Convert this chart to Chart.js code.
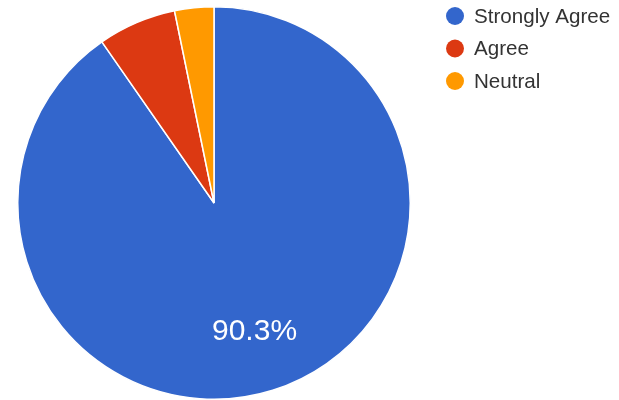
<!DOCTYPE html>
<html>
<head>
<meta charset="utf-8">
<script src="https://cdn.jsdelivr.net/npm/chart.js@4/dist/chart.umd.min.js"></script>
<style>
  html, body { margin: 0; padding: 0; background: #fff; }
  #wrap { position: relative; width: 619px; height: 400px; }
</style>
</head>
<body>
<div id="wrap"><canvas id="pie" width="619" height="400"></canvas></div>
<script>
var labels = ['Strongly Agree', 'Agree', 'Neutral'];
var counts = [28, 2, 1];
var colors = ['#3366CC', '#DC3912', '#FF9900'];

// percentage text inside big slices (like google charts)
var sliceLabels = {
    id: 'sliceLabels',
    afterDatasetsDraw: function (chart) {
        var ctx = chart.ctx;
        var meta = chart.getDatasetMeta(0);
        var total = counts.reduce(function (a, b) { return a + b; }, 0);
        meta.data.forEach(function (arc, i) {
            var pct = counts[i] / total * 100;
            if (pct < 10) return;
            var p = arc.getProps(['x', 'y', 'startAngle', 'endAngle', 'outerRadius'], true);
            var mid = (p.startAngle + p.endAngle) / 2;
            var r = p.outerRadius * 0.69;
            ctx.save();
            ctx.fillStyle = '#ffffff';
            ctx.font = '30px "Liberation Sans", Arial, sans-serif';
            ctx.textAlign = 'center';
            ctx.textBaseline = 'middle';
            ctx.fillText(pct.toFixed(1) + '%', p.x + r * Math.cos(mid), p.y + r * Math.sin(mid));
            ctx.restore();
        });
    }
};

// legend on the right side
var sideLegend = {
    id: 'sideLegend',
    afterDraw: function (chart) {
        var ctx = chart.ctx;
        var x = 455, y = 16, step = 32.5;
        ctx.save();
        ctx.font = '20.6px "Liberation Sans", Arial, sans-serif';
        ctx.textBaseline = 'middle';
        ctx.textAlign = 'left';
        labels.forEach(function (lab, i) {
            ctx.beginPath();
            ctx.arc(x, y + i * step, 9, 0, Math.PI * 2);
            ctx.fillStyle = colors[i];
            ctx.fill();
            ctx.fillStyle = '#333333';
            ctx.fillText(lab, 474, y + i * step + 1);
        });
        ctx.restore();
    }
};

var pieChart = new Chart(document.getElementById('pie').getContext('2d'), {
    type: 'pie',
    data: {
        labels: labels,
        datasets: [{
            data: counts,
            backgroundColor: colors,
            borderColor: '#ffffff',
            borderWidth: 1.5,
            hoverOffset: 0
        }]
    },
    options: {
        responsive: false,
        animation: false,
        layout: { padding: { left: 17, top: 6, right: 208, bottom: 0 } },
        plugins: {
            legend: { display: false },
            tooltip: { enabled: false }
        }
    },
    plugins: [sliceLabels, sideLegend]
});
</script>
</body>
</html>
